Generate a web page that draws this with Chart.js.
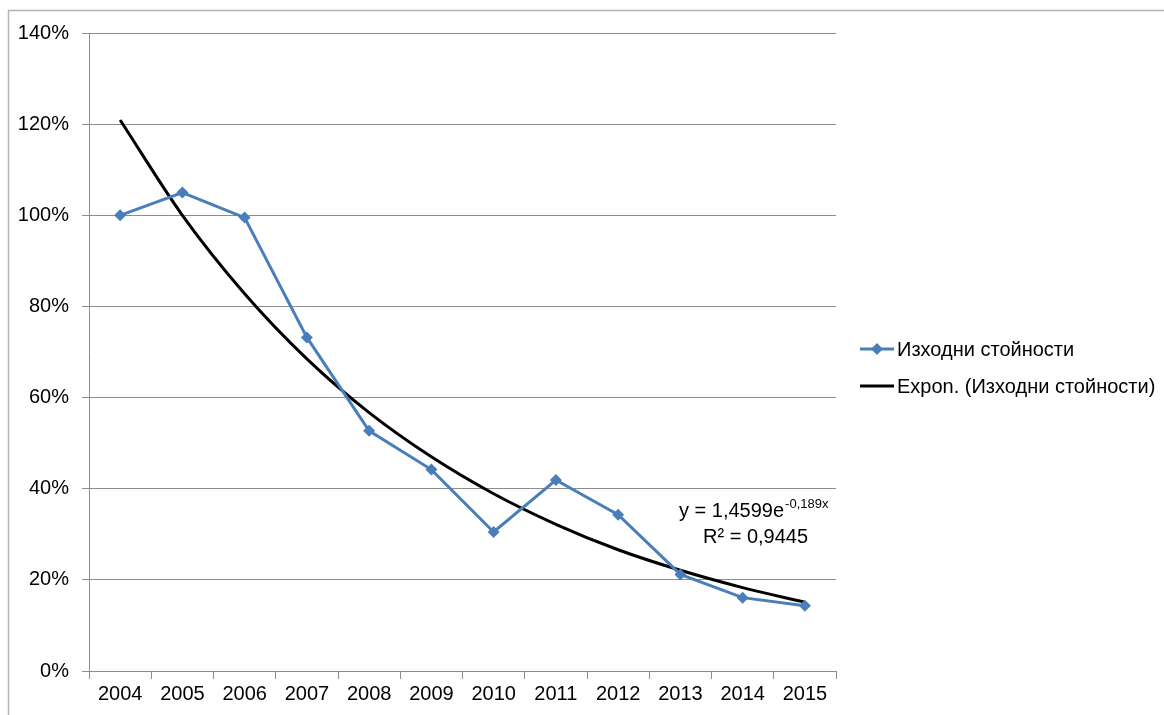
<!DOCTYPE html>
<html>
<head>
<meta charset="utf-8">
<script src="https://cdn.jsdelivr.net/npm/chart.js@4.4.1/dist/chart.umd.min.js"></script>
<style>
  html, body { margin: 0; padding: 0; background: #fff; }
  #wrap { width: 1164px; height: 715px; position: relative; }
</style>
</head>
<body>
<div id="wrap"><canvas id="chart"></canvas></div>
<script>
var YEARS = ['2004','2005','2006','2007','2008','2009','2010','2011','2012','2013','2014','2015'];
var VALUES = [100.0, 105.0, 99.5, 73.2, 52.7, 44.2, 30.5, 41.9, 34.3, 21.2, 16.1, 14.3];
var TREND = [120.9, 100.0, 82.8, 68.5, 56.7, 47.0, 38.9, 32.2, 26.6, 22.1, 18.3, 15.1];
var SERIES_NAME = 'Изходни стойности';
var TREND_NAME = 'Expon. (Изходни стойности)';
var EQUATION = 'y = 1,4599e';
var EQUATION_EXP = '-0,189x';
var R2_TEXT = 'R² = 0,9445';

var FONT = "'Liberation Sans', Arial, sans-serif";
var BLUE = '#4A7EBB';
var GRID = '#8c8c8c';

var extras = {
  id: 'extras',
  beforeDraw: function(chart) {
    var c = chart.ctx;
    c.save();
    c.strokeStyle = '#b4b4b4';
    c.lineWidth = 1.5;
    c.beginPath();
    c.moveTo(8.5, 715);
    c.lineTo(8.5, 10.5);
    c.lineTo(1164, 10.5);
    c.stroke();
    c.restore();
  },
  afterDraw: function(chart) {
    var c = chart.ctx;
    c.save();
    // legend
    var lx = 860, rows = [349, 386];
    c.font = '20px ' + FONT;
    c.textBaseline = 'middle';
    c.lineCap = 'butt';
    c.strokeStyle = BLUE; c.lineWidth = 3;
    c.beginPath(); c.moveTo(lx, rows[0]); c.lineTo(lx + 34, rows[0]); c.stroke();
    c.fillStyle = BLUE;
    c.beginPath();
    c.moveTo(lx + 17, rows[0] - 6); c.lineTo(lx + 23, rows[0]);
    c.lineTo(lx + 17, rows[0] + 6); c.lineTo(lx + 11, rows[0]);
    c.closePath(); c.fill();
    c.strokeStyle = '#000';
    c.beginPath(); c.moveTo(lx, rows[1]); c.lineTo(lx + 34, rows[1]); c.stroke();
    c.fillStyle = '#000';
    c.fillText(chart.data.datasets[0].label, lx + 37, rows[0] + 1);
    c.fillText(chart.data.datasets[1].label, lx + 37, rows[1] + 1);
    // trend equation
    c.textBaseline = 'alphabetic';
    var ex = 679, ey = 517;
    c.fillText(EQUATION, ex, ey);
    var w = c.measureText(EQUATION).width;
    c.font = '13px ' + FONT;
    c.fillText(EQUATION_EXP, ex + w + 1, ey - 9);
    c.font = '20px ' + FONT;
    c.fillText(R2_TEXT, 703, 543);
    c.restore();
  }
};

new Chart(document.getElementById('chart').getContext('2d'), {
  type: 'line',
  data: {
    labels: YEARS,
    datasets: [
      {
        label: SERIES_NAME,
        data: VALUES,
        borderColor: BLUE,
        backgroundColor: BLUE,
        borderWidth: 3,
        pointStyle: 'rectRot',
        pointRadius: 6,
        pointHoverRadius: 6,
        pointBorderWidth: 0,
        tension: 0
      },
      {
        label: TREND_NAME,
        data: TREND,
        borderColor: '#000',
        borderWidth: 3,
        pointRadius: 0,
        cubicInterpolationMode: 'monotone'
      }
    ]
  },
  plugins: [extras],
  options: {
    responsive: true,
    maintainAspectRatio: false,
    animation: false,
    layout: { padding: { top: 33, right: 328, left: 0, bottom: 0 } },
    plugins: {
      legend: { display: false },
      tooltip: { enabled: false }
    },
    scales: {
      x: {
        offset: true,
        grid: { offset: true, drawOnChartArea: false, color: GRID, tickLength: 8, tickColor: GRID },
        border: { color: GRID, width: 1 },
        ticks: { font: { family: FONT, size: 20 }, color: '#000', padding: 3, maxRotation: 0 },
        afterFit: function(s) { s.height = 44; }
      },
      y: {
        min: 0,
        max: 140,
        grid: { color: GRID, tickLength: 7, tickColor: GRID },
        border: { color: GRID, width: 1 },
        ticks: {
          stepSize: 20,
          font: { family: FONT, size: 20 },
          color: '#000',
          padding: 13,
          callback: function(v) { return v + '%'; }
        },
        afterFit: function(s) { s.width = 89; }
      }
    }
  }
});
</script>
</body>
</html>
